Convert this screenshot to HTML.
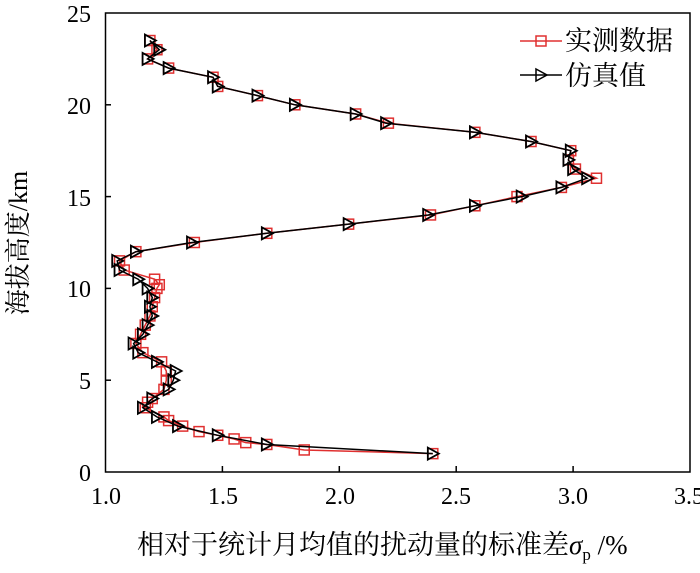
<!DOCTYPE html>
<html><head><meta charset="utf-8"><style>
body{margin:0;background:#fff;}
svg{display:block;font-family:"Liberation Serif","Noto Serif CJK SC","Noto Sans CJK SC",serif;}
</style></head><body>
<svg id="s" width="700" height="573" viewBox="0 0 700 573" xmlns="http://www.w3.org/2000/svg">
<rect x="105.5" y="13" width="584.5" height="459" fill="none" stroke="#000" stroke-width="1.5"/>
<g stroke="#000" stroke-width="1.5">
<line x1="105" y1="380.2" x2="111" y2="380.2"/><line x1="105" y1="288.4" x2="111" y2="288.4"/><line x1="105" y1="196.6" x2="111" y2="196.6"/><line x1="105" y1="104.8" x2="111" y2="104.8"/>
<line x1="222.4" y1="472" x2="222.4" y2="466"/><line x1="339.3" y1="472" x2="339.3" y2="466"/><line x1="456.2" y1="472" x2="456.2" y2="466"/><line x1="573.1" y1="472" x2="573.1" y2="466"/>
</g>
<g font-size="24" text-anchor="end">
<text x="91" y="481">0</text><text x="91" y="389">5</text><text x="91" y="297">10</text><text x="91" y="206">15</text><text x="91" y="114">20</text><text x="91" y="22">25</text>
</g>
<g font-size="24" text-anchor="middle">
<text x="106" y="504">1.0</text><text x="223" y="504">1.5</text><text x="340" y="504">2.0</text><text x="456" y="504">2.5</text><text x="573" y="504">3.0</text><text x="689" y="504">3.5</text>
</g>
<text x="137" y="554" font-size="27">相对于统计月均值的扰动量的标准差<tspan font-style="italic">σ</tspan><tspan font-size="17" dy="6">p</tspan><tspan dy="-6"> /%</tspan></text>
<text transform="translate(27,243) rotate(-90)" font-size="26" text-anchor="middle">海拔高度/km</text>
<line x1="520" y1="41" x2="562" y2="41" stroke="#e03030" stroke-width="1.5"/>
<rect x="536" y="36" width="10" height="10" fill="none" stroke="#e03030" stroke-width="1.5"/>
<text x="565" y="50" font-size="27">实测数据</text>
<line x1="520" y1="75" x2="562" y2="75" stroke="#000" stroke-width="1.5"/>
<path d="M536 69 L547 75 L536 81 Z" fill="none" stroke="#000" stroke-width="1.5"/>
<text x="565" y="85" font-size="27">仿真值</text>
<g id="g"></g>
</svg>
<script>
var X=function(v){return 105.5+(v-1)*233.8},Y=function(v){return 472-v*18.36};
var sim=[[23.5,1.19],[23,1.23],[22.5,1.18],[22,1.27],[21.5,1.46],[21,1.48],[20.5,1.65],[20,1.81],[19.5,2.07],[19,2.2],[18.5,2.58],[18,2.82],[17.5,2.99],[17,2.98],[16.5,3.0],[16,3.06],[15.5,2.95],[15,2.78],[14.5,2.58],[14,2.38],[13.5,2.04],[13,1.69],[12.5,1.37],[12,1.13],[11.5,1.05],[11,1.06],[10.5,1.14],[10,1.18],[9.5,1.2],[9,1.19],[8.5,1.2],[8,1.18],[7.5,1.16],[7,1.12],[6.5,1.14],[6,1.22],[5.5,1.3],[5,1.29],[4.5,1.27],[4,1.2],[3.5,1.16],[3,1.22],[2.5,1.31],[2,1.48],[1.5,1.69],[1,2.4]];
var mea=[[23.5,1.19],[23,1.22],[22.5,1.18],[22,1.27],[21.5,1.46],[21,1.48],[20.5,1.65],[20,1.81],[19.5,2.07],[19,2.21],[18.5,2.58],[18,2.82],[17.5,2.99],[17,2.98],[16.5,3.01],[16,3.1],[15.5,2.95],[15,2.76],[14.5,2.58],[14,2.39],[13.5,2.04],[13,1.69],[12.5,1.38],[12,1.13],[11.5,1.06],[11,1.08],[10.5,1.21],[10.2,1.23],[10,1.22],[9.5,1.21],[9,1.2],[8.5,1.19],[8,1.17],[7.5,1.15],[7,1.13],[6.5,1.16],[6,1.24],[5.5,1.26],[5,1.26],[4.5,1.25],[4,1.2],[3.8,1.18],[3.5,1.17],[3,1.25],[2.8,1.27],[2.5,1.33],[2.2,1.4],[2,1.48],[1.8,1.55],[1.6,1.6],[1.5,1.69],[1.2,1.85],[1,2.4]];
var h='';
function pts(a){return a.map(function(p){return X(p[1]).toFixed(1)+','+Y(p[0]).toFixed(1)}).join(' ')}
h+='<polyline points="'+pts(mea)+'" fill="none" stroke="#e03030" stroke-width="1.5"/>';
mea.forEach(function(p){h+='<rect x="'+(X(p[1])-5)+'" y="'+(Y(p[0])-5)+'" width="10" height="10" fill="none" stroke="#e03030" stroke-width="1.5"/>'});
h+='<polyline points="'+pts(sim)+'" fill="none" stroke="#000" stroke-width="1.5"/>';
sim.forEach(function(p){var x=X(p[1]),y=Y(p[0]);h+='<path d="M'+(x-5)+' '+(y-6)+' L'+(x+6)+' '+y+' L'+(x-5)+' '+(y+6)+' Z" fill="none" stroke="#000" stroke-width="1.8"/>'});
document.getElementById('g').innerHTML=h;
</script>
</body></html>
